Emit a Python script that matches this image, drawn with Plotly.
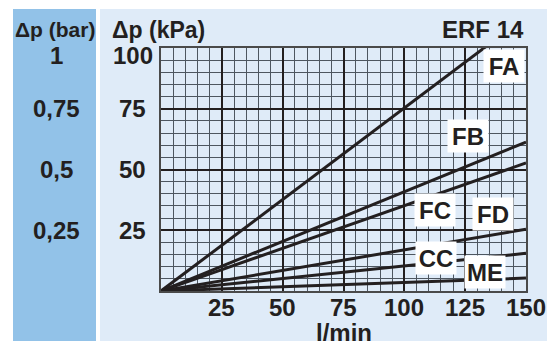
import plotly.graph_objects as go

# ---- data ----
flow = [0, 150]                      # l/min
series_names = ["FA", "FB", "FC", "FD", "CC", "ME"]
FA = [0, 113.0]
FB = [0, 61.3]
FC = [0, 52.7]
FD = [0, 25.4]
CC = [0, 15.5]
ME = [0, 5.3]
x_ticks = [0, 25, 50, 75, 100, 125, 150]
x_labels = ["0", "25", "50", "75", "100", "125", "150"]
kpa_ticks = [25, 50, 75, 100]
kpa_labels = ["25", "50", "75", "100"]
bar_ticks = [25, 50, 75, 100]
bar_labels = ["0,25", "0,5", "0,75", "1"]
# label positions (data coords) for curve names
label_x = [140.8, 126.0, 112.5, 136.5, 113.0, 133.0]
label_y = [92.4, 63.8, 33.3, 31.7, 13.6, 7.8]

OFF = 8                      # default page body margin
W, H = 555 - OFF, 341 - OFF
L, R, T, B = 161 - OFF, 29, 48 - OFF, 50
pw, ph = W - L - R, H - T - B

def px(xp):
    return (xp - OFF - L) / pw

def py(yp):
    return (H - B - (yp - OFF)) / ph

INK = "#231f20"
LIGHT = "#dfebf8"
BLUE = "#92c2e8"
MINOR = "#4d5660"
FONT = "Liberation Sans"

fig = go.Figure()
for name, vals in zip(series_names, [FA, FB, FC, FD, CC, ME]):
    fig.add_trace(go.Scatter(x=flow, y=vals, mode="lines", name=name,
                             line=dict(color=INK, width=3), showlegend=False,
                             hoverinfo="skip"))

shapes = [
    dict(type="rect", xref="paper", yref="paper", x0=px(13), x1=px(96),
         y0=py(345), y1=py(9), fillcolor=BLUE, line=dict(width=0), layer="below"),
    dict(type="rect", xref="paper", yref="paper", x0=px(100), x1=px(560),
         y0=py(345), y1=py(9), fillcolor=LIGHT, line=dict(width=0), layer="below"),
]

ann = []
lab_font = dict(family=FONT, size=24, color=INK, weight="bold")
for n, lx, ly in zip(series_names, label_x, label_y):
    ann.append(dict(x=lx, y=ly, xref="x", yref="y", text=n, showarrow=False,
                    font=lab_font, bgcolor="white", width=38, height=30,
                    align="center", valign="middle"))

# x tick labels ("0" shared with the kPa axis, placed left of origin)
for v, t in zip(x_ticks, x_labels):
    xx = v if v > 0 else -11.5
    ann.append(dict(x=xx, y=py(307.5), xref="x", yref="paper", text=t,
                    showarrow=False, font=lab_font, xanchor="center",
                    yanchor="middle"))

for v, t in zip(kpa_ticks, kpa_labels):
    shift = -7 if v == 100 else 0
    ann.append(dict(x=px(132.5), y=v, xref="paper", yref="y", text=t,
                    showarrow=False, font=lab_font, xanchor="center",
                    yanchor="middle", yshift=shift))
for v, t in zip(bar_ticks, bar_labels):
    shift = -7 if v == 100 else 0
    ann.append(dict(x=px(56), y=v, xref="paper", yref="y", text=t,
                    showarrow=False, font=lab_font, xanchor="center",
                    yanchor="middle", yshift=shift))

ann += [
    dict(x=px(55), y=py(30), xref="paper", yref="paper", text="Δp (bar)",
         showarrow=False, font=dict(family=FONT, size=21, color=INK, weight="bold"),
         xanchor="center", yanchor="middle"),
    dict(x=px(158), y=py(30), xref="paper", yref="paper", text="Δp (kPa)",
         showarrow=False, font=dict(family=FONT, size=23, color=INK, weight="bold"),
         xanchor="center", yanchor="middle"),
    dict(x=px(483), y=py(29), xref="paper", yref="paper", text="ERF 14",
         showarrow=False, font=dict(family=FONT, size=24, color=INK, weight="bold"),
         xanchor="center", yanchor="middle"),
    dict(x=px(344), y=py(332), xref="paper", yref="paper", text="l/min",
         showarrow=False, font=dict(family=FONT, size=24, color=INK, weight="bold"),
         xanchor="center", yanchor="middle"),
]

fig.update_layout(
    width=W, height=H, autosize=False,
    margin=dict(l=L, r=R, t=T, b=B, pad=0),
    paper_bgcolor="white", plot_bgcolor=LIGHT,
    shapes=shapes, annotations=ann,
    xaxis=dict(range=[0, 150], tickvals=x_ticks, showticklabels=False, ticks="",
               showgrid=True, gridcolor=INK, gridwidth=1.6, zeroline=False,
               showline=True, linecolor="#4a4a4a", linewidth=2, mirror=True,
               minor=dict(dtick=5, tick0=0, showgrid=True, gridcolor=MINOR, gridwidth=1)),
    yaxis=dict(range=[0, 100], tickvals=[0] + kpa_ticks, showticklabels=False, ticks="",
               showgrid=True, gridcolor=INK, gridwidth=1.6, zeroline=False,
               showline=True, linecolor="#4a4a4a", linewidth=2, mirror=True,
               minor=dict(dtick=5, tick0=0, showgrid=True, gridcolor=MINOR, gridwidth=1)),
)

fig.write_html("out.html")
